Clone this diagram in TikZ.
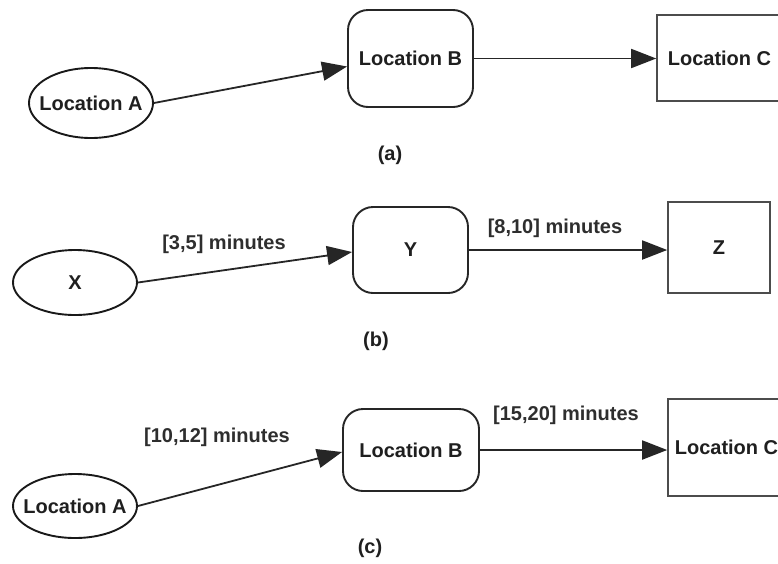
\documentclass[tikz,border=0pt]{standalone}
\usepackage{fontspec}
\setmainfont{Liberation Sans}
\usetikzlibrary{arrows.meta,shapes.geometric}
\begin{document}
\begin{tikzpicture}[x=1pt,y=-1pt,
  every node/.style={font=\fontsize{20}{24}\selectfont\bfseries, text=black!88, inner sep=0pt},
  ell/.style={ellipse, draw=black!90, line width=1.9pt},
  rbox/.style={rectangle, rounded corners=20pt, draw=black!85, line width=1.9pt},
  sbox/.style={rectangle, draw=black!70, line width=1.6pt},
  lbl/.style={text=black!82},
  conn/.style={draw=black!85, line width=1.8pt, -{Triangle[length=25pt,width=19pt]}}
]
\useasboundingbox (0,0) rectangle (778,563);
\clip (0,0) rectangle (778,563);
% row (a)
\node[ell, inner xsep=-8.5pt, minimum width=124pt, minimum height=70pt] (a1) at (91,103) {Location A};
\node[rbox, minimum width=125pt, minimum height=97pt] (a2) at (410.5,58.5) {Location B};
\node[sbox, minimum width=125pt, minimum height=86pt] (a3) at (719.5,58) {Location C};
\node (acap) at (390,155) {(a)};
\draw[conn] (a1.east) -- ([yshift=-8pt]a2.west);
\draw[conn] (a2.east) -- (a2.east -| a3.west);
% row (b)
\node[ell, minimum width=124pt, minimum height=65pt] (b1) at (75,282.5) {X};
\node[rbox, minimum width=115pt, minimum height=86pt] (b2) at (410.5,250) {Y};
\node[sbox, minimum width=102pt, minimum height=91pt] (b3) at (719,247.5) {Z};
\node (bcap) at (376,341) {(b)};
\draw[conn] (b1.east) -- ([yshift=-2pt]b2.west);
\draw[conn] (b2.east) -- (b2.east -| b3.west);
\node[lbl] (bl1) at (224,244) {[3,5] minutes};
\node[lbl] (bl2) at (555,228) {[8,10] minutes};
% row (c)
\node[ell, inner xsep=-8.5pt, minimum width=124pt, minimum height=64pt] (c1) at (75,506) {Location A};
\node[rbox, minimum width=136pt, minimum height=82pt] (c2) at (411,450) {Location B};
\node[sbox, minimum width=117pt, minimum height=97pt] (c3) at (726.5,447.5) {Location C};
\node (ccap) at (370,548) {(c)};
\draw[conn] (c1.east) -- ([yshift=-2pt]c2.west);
\draw[conn] (c2.east) -- (c2.east -| c3.west);
\node[lbl] (cl1) at (217,437) {[10,12] minutes};
\node[lbl] (cl2) at (566,415) {[15,20] minutes};
\end{tikzpicture}
\end{document}
